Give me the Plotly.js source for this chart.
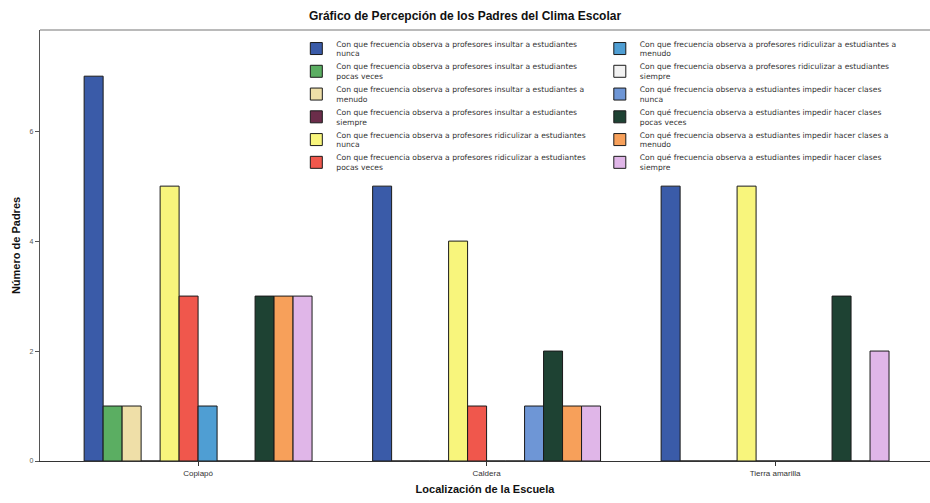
<!DOCTYPE html>
<html>
<head>
<meta charset="utf-8">
<script src="https://cdn.plot.ly/plotly-3.0.1.min.js"></script>
<style>html,body{margin:0;padding:0;background:#fff;}#chart{width:930px;height:503px;}</style>
</head>
<body>
<div id="chart"></div>
<script>
const categories = ["Copiapó", "Caldera", "Tierra amarilla"];

const seriesNames = [
  "Con que frecuencia observa a profesores insultar a estudiantes<br>nunca",
  "Con que frecuencia observa a profesores insultar a estudiantes<br>pocas veces",
  "Con que frecuencia observa a profesores insultar a estudiantes a<br>menudo",
  "Con que frecuencia observa a profesores insultar a estudiantes<br>siempre",
  "Con que frecuencia observa a profesores ridiculizar a estudiantes<br>nunca",
  "Con que frecuencia observa a profesores ridiculizar a estudiantes<br>pocas veces",
  "Con que frecuencia observa a profesores ridiculizar a estudiantes a<br>menudo",
  "Con que frecuencia observa a profesores ridiculizar a estudiantes<br>siempre",
  "Con qué frecuencia observa a estudiantes impedir hacer clases<br>nunca",
  "Con qué frecuencia observa a estudiantes impedir hacer clases<br>pocas veces",
  "Con qué frecuencia observa a estudiantes impedir hacer clases a<br>menudo",
  "Con qué frecuencia observa a estudiantes impedir hacer clases<br>siempre"
];

// values per series: [Copiapó, Caldera, Tierra amarilla]
const insultarNunca       = [7, 5, 5];
const insultarPocasVeces  = [1, 0, 0];
const insultarAMenudo     = [1, 0, 0];
const insultarSiempre     = [0, 0, 0];
const ridiculizarNunca    = [5, 4, 5];
const ridiculizarPocas    = [3, 1, 0];
const ridiculizarAMenudo  = [1, 0, 0];
const ridiculizarSiempre  = [0, 0, 0];
const impedirNunca        = [0, 1, 0];
const impedirPocasVeces   = [3, 2, 3];
const impedirAMenudo      = [3, 1, 0];
const impedirSiempre      = [3, 1, 2];

const seriesValues = [
  insultarNunca, insultarPocasVeces, insultarAMenudo, insultarSiempre,
  ridiculizarNunca, ridiculizarPocas, ridiculizarAMenudo, ridiculizarSiempre,
  impedirNunca, impedirPocasVeces, impedirAMenudo, impedirSiempre
];

const colors = [
  "#3a5ba8", "#5bae62", "#efdfa8", "#6b2d4a",
  "#f8f57c", "#f0574c", "#4f9ed3", "#f2f2f2",
  "#6e96d6", "#1e4233", "#f7a05a", "#e0b6e8"
];

const yTicks = [0, 2, 4, 6];

const traces = seriesValues.map((vals, i) => ({
  type: "bar",
  name: seriesNames[i],
  x: categories,
  y: vals,
  marker: { color: colors[i], line: { color: "#1a1a1a", width: 1 } },
  legend: i < 6 ? "legend" : "legend2",
  hoverinfo: "x+y+name"
}));

const legendFont = { family: "DejaVu Sans, Verdana, sans-serif", size: 7.6, color: "#333" };

const layout = {
  width: 930,
  height: 503,
  margin: { l: 40, r: 0, t: 30, b: 42 },
  paper_bgcolor: "#fff",
  plot_bgcolor: "#fff",
  barmode: "group",
  bargap: 0.21,
  bargroupgap: 0,
  title: {
    text: "<b>Gráfico de Percepción de los Padres del Clima Escolar</b>",
    font: { family: "Liberation Sans, Arial, sans-serif", size: 12, color: "#111" },
    x: 0.5, xref: "container", y: 0.968, yref: "container", yanchor: "middle"
  },
  xaxis: {
    type: "category",
    range: [-0.548, 2.537],
    showline: true, linecolor: "#333", linewidth: 1.2,
    ticks: "outside", ticklen: 4, tickcolor: "#333",
    tickfont: { family: "Liberation Sans, Arial, sans-serif", size: 8, color: "#333" },
    showgrid: false, zeroline: false,
    title: { text: "<b>Localización de la Escuela</b>", standoff: 8,
      font: { family: "Liberation Sans, Arial, sans-serif", size: 11, color: "#111" } }
  },
  yaxis: {
    range: [0, 7.84],
    tickvals: yTicks,
    ticktext: yTicks.map(String),
    showline: true, linecolor: "#555", linewidth: 1.2,
    ticks: "outside", ticklen: 4, tickcolor: "#555",
    tickfont: { family: "Liberation Sans, Arial, sans-serif", size: 7, color: "#555" },
    showgrid: false, zeroline: false,
    title: { text: "<b>Número de Padres</b>", standoff: 6,
      font: { family: "Liberation Sans, Arial, sans-serif", size: 11, color: "#111" } }
  },
  shapes: [{
    type: "line", xref: "paper", yref: "paper", x0: 0, x1: 1, y0: 1, y1: 1,
    line: { color: "#777", width: 1.2 }
  }],
  legend: {
    x: 0.288, xanchor: "left", y: 0.995, yanchor: "top",
    bgcolor: "rgba(255,255,255,0)", font: legendFont, itemwidth: 30,
    tracegroupgap: 0, traceorder: "normal"
  },
  legend2: {
    x: 0.629, xanchor: "left", y: 0.995, yanchor: "top",
    bgcolor: "rgba(255,255,255,0)", font: legendFont, itemwidth: 30,
    tracegroupgap: 0, traceorder: "normal"
  },
  showlegend: true
};

Plotly.newPlot("chart", traces, layout, { displayModeBar: false, staticPlot: true });
</script>
</body>
</html>
